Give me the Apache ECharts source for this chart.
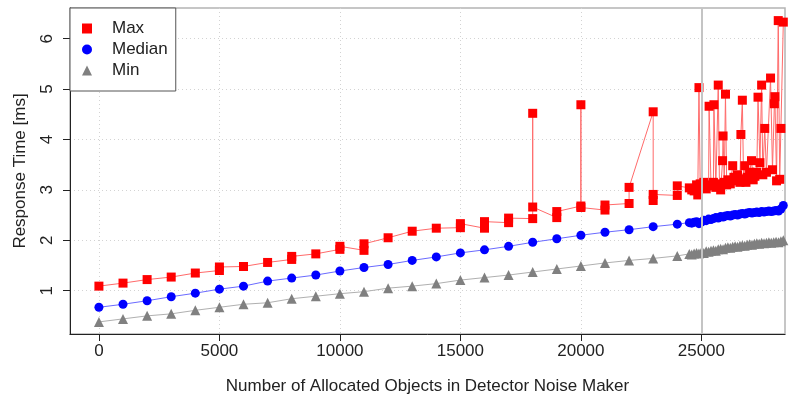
<!DOCTYPE html>
<html>
<head>
<meta charset="utf-8">
<script src="https://cdn.jsdelivr.net/npm/echarts@6/dist/echarts.min.js"></script>
<style>
  html, body { margin: 0; padding: 0; background: #fff; }
  #main { width: 799px; height: 400px; }
</style>
</head>
<body>
<div id="main"></div>
<script>
// tick labels
var xTicks = [0, 5000, 10000, 15000, 20000, 25000];
var yTicks = [1, 2, 3, 4, 5, 6];

// object counts for median / min runs
var sizeX = [0, 1000, 2000, 3000, 4000, 5000, 6000, 7000, 8000, 9000, 10000, 11000, 12000,
  13000, 14000, 15000, 16000, 17000, 18000, 19000, 20000, 21000, 22000, 23000, 24000,
  24500, 24600, 24700, 24800, 24900, 25000, 25100, 25200, 25300, 25400, 25500, 25600,
  25700, 25800, 25900, 26000, 26100, 26200, 26300, 26400, 26500, 26600, 26700, 26800,
  26900, 27000, 27100, 27200, 27300, 27400, 27500, 27600, 27700, 27800, 27900, 28000,
  28100, 28200, 28300, 28400];

var medianY = [0.67, 0.73, 0.80, 0.88, 0.95, 1.03, 1.09, 1.19, 1.25, 1.31, 1.39, 1.46, 1.52,
  1.60, 1.67, 1.75, 1.81, 1.88, 1.96, 2.03, 2.10, 2.16, 2.21, 2.27, 2.32,
  2.35, 2.34, 2.36, 2.37, 2.33, 2.36, 2.40, 2.39, 2.42, 2.41, 2.43, 2.45,
  2.44, 2.47, 2.46, 2.48, 2.49, 2.48, 2.50, 2.51, 2.50, 2.52, 2.53, 2.52,
  2.54, 2.55, 2.54, 2.55, 2.56, 2.55, 2.57, 2.56, 2.57, 2.58, 2.57, 2.58,
  2.59, 2.58, 2.62, 2.69];

var minY = [0.38, 0.44, 0.50, 0.54, 0.61, 0.67, 0.73, 0.76, 0.84, 0.89, 0.94, 0.98, 1.05,
  1.09, 1.14, 1.21, 1.26, 1.31, 1.37, 1.43, 1.49, 1.55, 1.60, 1.64, 1.69,
  1.73, 1.72, 1.74, 1.75, 1.74, 1.76, 1.75, 1.78, 1.77, 1.79, 1.80, 1.79,
  1.82, 1.83, 1.82, 1.85, 1.86, 1.85, 1.87, 1.88, 1.87, 1.89, 1.90, 1.89,
  1.91, 1.92, 1.91, 1.93, 1.94, 1.93, 1.95, 1.94, 1.95, 1.96, 1.95, 1.96,
  1.97, 1.96, 1.98, 2.00];

// max runs (some sizes were measured more than once)
var maxX = [0, 1000, 2000, 3000, 4000, 5000, 5000, 6000, 7000, 8000, 8000, 9000, 10000, 10000,
  11000, 11000, 12000, 13000, 14000, 15000, 15000, 16000, 16000, 17000, 17000,
  18000, 18000, 18000, 19000, 19000, 20000, 20000, 20000, 21000, 21000, 22000, 22000,
  23000, 23000, 23000, 24000, 24000,
  24500, 24600, 24700, 24800, 24850, 24900, 24950, 25000, 25100, 25200, 25300, 25320,
  25400, 25500, 25520, 25600, 25700, 25750, 25800, 25880, 25900, 25950, 26000, 26050,
  26100, 26200, 26300, 26350, 26400, 26500, 26600, 26640, 26700, 26750, 26800, 26850,
  26900, 27000, 27080, 27150, 27220, 27300, 27350, 27430, 27500, 27550, 27630, 27700,
  27870, 27950, 28030, 28050, 28120, 28190, 28250, 28300, 28400];

var maxY = [1.09, 1.15, 1.22, 1.27, 1.35, 1.40, 1.47, 1.48, 1.56, 1.62, 1.68, 1.73, 1.82, 1.88,
  1.80, 1.93, 2.05, 2.18, 2.24, 2.25, 2.33, 2.24, 2.37, 2.35, 2.44,
  2.43, 4.52, 2.66, 2.45, 2.57, 2.68, 4.69, 2.65, 2.60, 2.70, 2.73, 3.05,
  4.55, 2.79, 2.91, 2.89, 3.08,
  3.04, 3.00, 2.98, 3.10, 2.90, 5.03, 3.12, 3.05, 3.15, 3.02, 3.10, 4.66,
  3.08, 3.15, 4.69, 3.05, 5.08, 3.12, 3.00, 3.58, 4.07, 3.15, 4.90, 3.10,
  3.20, 3.12, 3.48, 3.25, 3.18, 3.30, 3.15, 4.10, 4.78, 3.22, 3.48, 3.15,
  3.25, 3.35, 3.58, 3.20, 3.27, 3.35, 4.84, 3.54, 5.08, 3.30, 4.22, 3.35,
  5.22, 3.40, 4.71, 4.85, 3.18, 6.36, 3.21, 4.22, 6.33];

function zip(xs, ys) {
  return xs.map(function (x, i) { return [x, ys[i]]; });
}

var chart = echarts.init(document.getElementById('main'));

var font = 'Liberation Sans';
var gridLine = { show: true, lineStyle: { color: '#d3d3d3', type: [1, 3], width: 1 } };

var option = {
  backgroundColor: '#ffffff',
  animation: false,
  textStyle: { fontFamily: font },
  grid: {
    left: 70, right: 14, top: 8, bottom: 62,
    show: true, borderColor: '#b4b4b4', borderWidth: 1.5
  },
  legend: {
    left: 70, top: 8,
    orient: 'vertical',
    backgroundColor: '#fff',
    borderColor: '#555',
    borderWidth: 1,
    borderRadius: 0,
    padding: [10, 8, 10, 12],
    itemWidth: 10, itemHeight: 10, itemGap: 0,
    textStyle: { fontSize: 17, color: '#222', lineHeight: 21, padding: [0, 0, 0, 15], fontFamily: font },
    data: [
      { name: 'Max', icon: 'rect', itemStyle: { color: '#ff0000' } },
      { name: 'Median', icon: 'circle', itemStyle: { color: '#0000ff' } },
      { name: 'Min', icon: 'triangle', itemStyle: { color: '#808080' } }
    ]
  },
  xAxis: {
    type: 'value',
    min: -1200, max: 28470,
    name: 'Number of Allocated Objects in Detector Noise Maker',
    nameLocation: 'middle',
    nameGap: 44,
    nameTextStyle: { fontSize: 17, color: '#222', fontFamily: font },
    axisLine: { show: true, onZero: false, lineStyle: { color: '#222', width: 1 } },
    axisTick: { show: true, customValues: xTicks, length: 7, lineStyle: { color: '#222' } },
    axisLabel: {
      customValues: xTicks, fontSize: 17, color: '#222', margin: 9, fontFamily: font,
      formatter: function (v) { return String(v); }
    },
    splitLine: gridLine
  },
  yAxis: {
    type: 'value',
    min: 0.14, max: 6.61,
    name: 'Response Time [ms]',
    nameLocation: 'middle',
    nameGap: 41,
    nameTextStyle: { fontSize: 17, color: '#222', fontFamily: font },
    axisLine: { show: true, onZero: false, lineStyle: { color: '#222', width: 1 } },
    axisTick: { show: true, customValues: yTicks, length: 7, lineStyle: { color: '#222' } },
    axisLabel: { customValues: yTicks, rotate: 90, fontSize: 17, color: '#222', margin: 14, fontFamily: font },
    splitLine: gridLine
  },
  series: [
    {
      name: 'Max',
      type: 'line',
      data: zip(maxX, maxY),
      symbol: 'rect',
      symbolSize: 9,
      itemStyle: { color: '#ff0000' },
      lineStyle: { color: '#ff6a6a', width: 1 },
      markLine: {
        silent: true,
        symbol: 'none',
        label: { show: false },
        lineStyle: { color: '#c4c4c4', width: 2, type: 'solid' },
        data: [{ xAxis: 25000 }]
      },
      z: 3
    },
    {
      name: 'Median',
      type: 'line',
      data: zip(sizeX, medianY),
      symbol: 'circle',
      symbolSize: 9,
      itemStyle: { color: '#0000ff' },
      lineStyle: { color: '#6a6aff', width: 1 },
      z: 3
    },
    {
      name: 'Min',
      type: 'line',
      data: zip(sizeX, minY),
      symbol: 'triangle',
      symbolSize: 10,
      itemStyle: { color: '#808080' },
      lineStyle: { color: '#b0b0b0', width: 1 },
      z: 3
    }
  ]
};

chart.setOption(option);
</script>
</body>
</html>
